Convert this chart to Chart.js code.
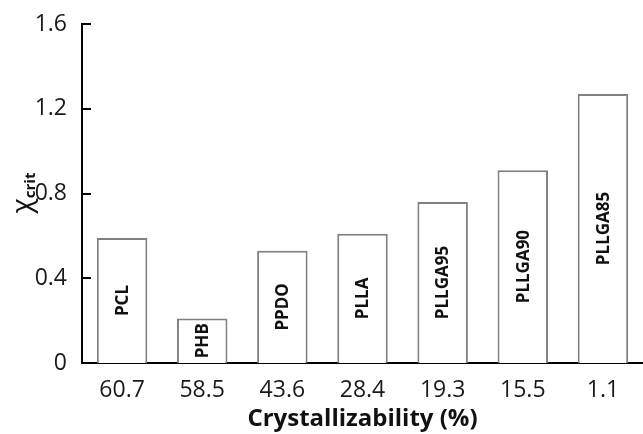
<!DOCTYPE html>
<html>
<head>
<meta charset="utf-8">
<script src="https://cdn.jsdelivr.net/npm/chart.js@4"></script>
<style>
  html, body { margin: 0; padding: 0; background: #fff; }
  #wrap { width: 643px; height: 434px; }
</style>
</head>
<body>
<div id="wrap"><canvas id="myChart" width="643" height="434"></canvas></div>
<script>
// data
const crystallizability = ['60.7', '58.5', '43.6', '28.4', '19.3', '15.5', '1.1'];
const polymers = ['PCL', 'PHB', 'PPDO', 'PLLA', 'PLLGA95', 'PLLGA90', 'PLLGA85'];
const chiCrit = [0.59, 0.21, 0.53, 0.61, 0.76, 0.91, 1.27];
const yTicks = [0, 0.4, 0.8, 1.2, 1.6];

const fontFamily = '"Open Sans", sans-serif';

// names written sideways inside each bar
const barNames = {
  id: 'barNames',
  afterDatasetsDraw(chart) {
    const ctx = chart.ctx;
    const meta = chart.getDatasetMeta(0);
    ctx.save();
    ctx.fillStyle = '#111';
    ctx.font = 'bold 17px ' + fontFamily;
    ctx.textAlign = 'center';
    ctx.textBaseline = 'middle';
    meta.data.forEach((bar, i) => {
      const cy = (bar.y + bar.base) / 2;
      ctx.save();
      ctx.translate(bar.x, cy);
      ctx.rotate(-Math.PI / 2);
      ctx.fillText(polymers[i], 0, 1);
      ctx.restore();
    });
    ctx.restore();
  }
};

// y ticks point inwards, and the axis title has a subscript
const yExtras = {
  id: 'yExtras',
  afterDraw(chart) {
    const ctx = chart.ctx;
    const y = chart.scales.y;
    ctx.save();
    ctx.strokeStyle = '#000';
    ctx.lineWidth = 2;
    yTicks.forEach(v => {
      const py = Math.round(y.getPixelForValue(v));
      ctx.beginPath();
      ctx.moveTo(y.right, py);
      ctx.lineTo(y.right + 9, py);
      ctx.stroke();
    });

    // χ_crit
    ctx.translate(31, 193);
    ctx.rotate(-Math.PI / 2);
    ctx.fillStyle = '#111';
    ctx.textBaseline = 'alphabetic';
    ctx.textAlign = 'left';
    ctx.font = '28px ' + fontFamily;
    const w1 = ctx.measureText('χ').width;
    ctx.font = 'bold 15px ' + fontFamily;
    const w2 = ctx.measureText('crit').width;
    const x0 = -(w1 + w2) / 2;
    ctx.font = '28px ' + fontFamily;
    ctx.fillText('χ', x0, 0);
    ctx.font = 'bold 15px ' + fontFamily;
    ctx.fillText('crit', x0 + w1, 4);
    ctx.restore();
  }
};

const data = {
  labels: crystallizability,
  datasets: [{
    data: chiCrit,
    backgroundColor: '#ffffff',
    borderColor: '#808080',
    borderWidth: 2,
    barPercentage: 0.63,
    categoryPercentage: 1.0
  }]
};

const config = {
  type: 'bar',
  data: data,
  plugins: [barNames, yExtras],
  options: {
    responsive: false,
    animation: false,
    layout: { padding: { top: 24, right: -4, left: 0, bottom: 0 } },
    plugins: {
      legend: { display: false },
      tooltip: { enabled: false }
    },
    scales: {
      x: {
        grid: { display: false },
        border: { display: true, color: '#000', width: 2 },
        ticks: {
          color: '#1a1a1a',
          font: { family: fontFamily, size: 23 },
          padding: 6
        },
        title: {
          display: true,
          text: 'Crystallizability (%)',
          color: '#111',
          font: { family: fontFamily, size: 24, weight: 'bold' },
          padding: { top: 0, bottom: 0 }
        },
        afterFit(scale) { scale.height = 71; }
      },
      y: {
        min: 0,
        max: 1.6,
        grid: { display: false },
        border: { display: true, color: '#000', width: 2 },
        afterBuildTicks(scale) {
          scale.ticks = yTicks.map(v => ({ value: v }));
        },
        ticks: {
          color: '#1a1a1a',
          font: { family: fontFamily, size: 23 },
          padding: 7,
          callback: v => (v === 0 ? '0' : v.toFixed(1))
        },
        afterFit(scale) { scale.width = 82; }
      }
    }
  }
};

const myChart = new Chart(document.getElementById('myChart'), config);
</script>
</body>
</html>
